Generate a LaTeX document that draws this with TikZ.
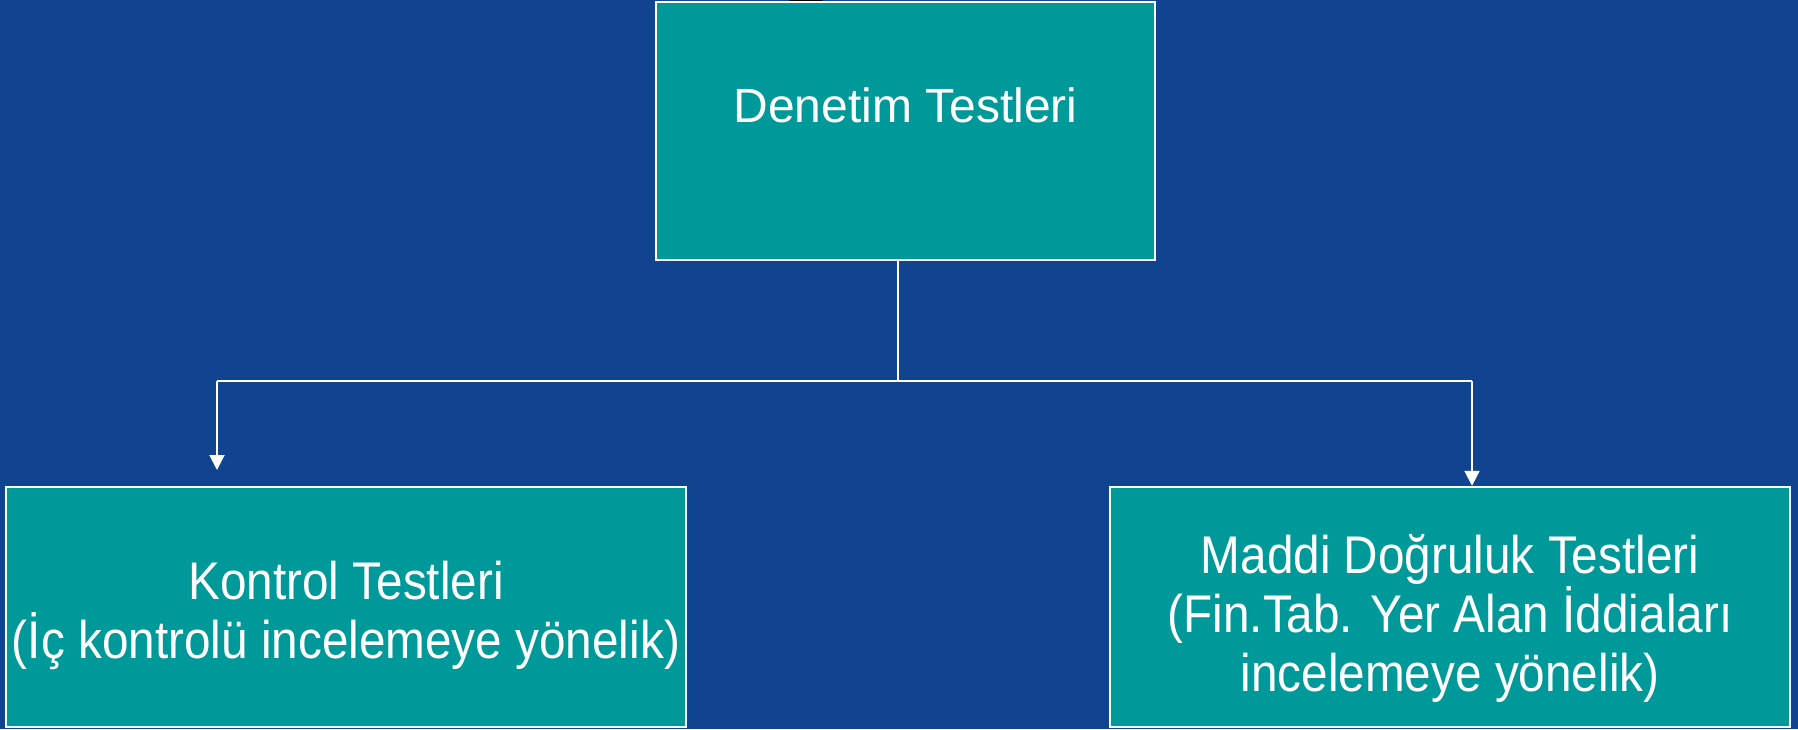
\documentclass[tikz,border=0pt]{standalone}
\usepackage{fontspec}
\setmainfont{Liberation Sans}
\newfontfamily\narrowfont[FakeStretch=0.9]{Liberation Sans}
\usetikzlibrary{arrows.meta}
\definecolor{bgblue}{RGB}{16,68,144}
\definecolor{teal}{RGB}{0,153,153}
\tikzset{
  box/.style={draw=white, line width=1.2pt, fill=teal, inner sep=0pt},
  toptxt/.style={text=white, font=\fontsize{24pt}{28pt}\selectfont, inner sep=0pt},
  subtxt/.style={text=white, align=center, inner sep=0pt,
    font=\narrowfont\fontsize{26.5pt}{29.5pt}\selectfont},
  conn/.style={draw=white, line width=1pt},
  arr/.style={conn, -{Triangle[width=7.5pt,length=7.5pt]}}
}
\begin{document}
\begin{tikzpicture}[x=0.5pt,y=-0.5pt]
\useasboundingbox (0,0) rectangle (1798,729);
\clip (0,0) rectangle (1798,729);
\fill[bgblue] (0,0) rectangle (1798,729);
\fill[black] (806,0) ellipse [x radius=17, y radius=3];
\node[box, minimum width=249.5pt, minimum height=129pt] (top) at (905.5,131) {};
\node[toptxt] (toptext) at (905.5,105) {Denetim Testleri};
\node[box, minimum width=340pt, minimum height=120pt] (left) at (346,607) {};
\node[subtxt] (lefttext) at (346,615) {Kontrol Testleri\\(İç kontrolü incelemeye yönelik)};
\node[box, minimum width=340pt, minimum height=120pt] (right) at (1450,607) {};
\node[subtxt] (righttext) at (1450,618) {Maddi Doğruluk Testleri\\(Fin.Tab. Yer Alan İddiaları\\incelemeye yönelik)};
\coordinate (j) at (898,381);
\coordinate (lc) at (217,381);
\coordinate (rc) at (1472,381);
\coordinate (ltip) at (217,470);
\draw[conn] (top.south -| j) -- (j);
\draw[conn] (lc) -- (rc);
\draw[arr] (lc) -- (ltip);
\draw[arr] (rc) -- (right.north -| rc);
\end{tikzpicture}
\end{document}
